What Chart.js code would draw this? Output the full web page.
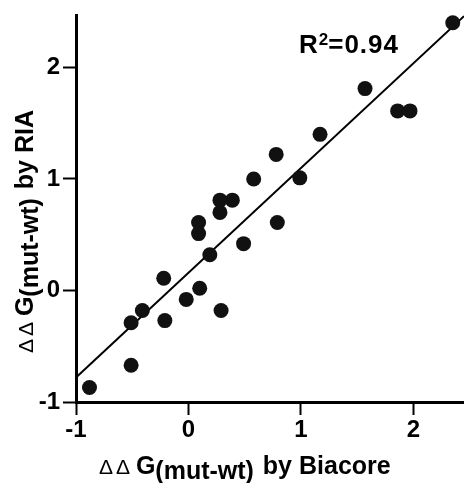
<!DOCTYPE html>
<html>
<head>
<meta charset="utf-8">
<script src="https://cdn.jsdelivr.net/npm/chart.js@4.4.1/dist/chart.umd.min.js"></script>
<style>
  html, body { margin: 0; padding: 0; background: #fff; }
  #wrap { width: 464px; height: 483px; position: relative; }
</style>
</head>
<body>
<div id="wrap"><canvas id="chart" width="464" height="483"></canvas></div>
<script>
// ddG values: Biacore (x) vs RIA (y)
const biacore = [2.35, 1.57, 1.86, 1.97, 1.17, 0.78, 0.58, 0.99, 0.28, 0.39,
  0.28, 0.09, 0.09, 0.79, 0.49, 0.19, -0.22, 0.10, -0.02, 0.29,
  -0.41, -0.51, -0.21, -0.51, -0.88]
const ria = [2.40, 1.81, 1.61, 1.61, 1.40, 1.22, 1.00, 1.01, 0.81, 0.81,
  0.70, 0.61, 0.51, 0.61, 0.42, 0.32, 0.11, 0.02, -0.08, -0.18,
  -0.18, -0.29, -0.27, -0.67, -0.87]

// regression line end points
const fitX = [-1, 2.45]
const fitY = [-0.78, 2.46]

const xTicks = [-1, 0, 1, 2]
const yTicks = [-1, 0, 1, 2]
const rSquared = '0.94'

const FONT = '"Liberation Sans", Arial, Helvetica, sans-serif'

function pairs(xs, ys) {
  return xs.map((x, i) => ({ x: x, y: ys[i] }))
}

// draws a run of text pieces, each with own font and baseline shift
function drawRun(ctx, pieces, x, y) {
  let cx = x
  for (const p of pieces) {
    ctx.font = p.font
    ctx.letterSpacing = p.spacing || '0px'
    cx += p.dx || 0
    ctx.fillText(p.text, cx, y + (p.dy || 0))
    cx += ctx.measureText(p.text).width
  }
  ctx.letterSpacing = '0px'
}

function titlePieces(tail) {
  return [
    { text: '\u0394', font: `21px ${FONT}` },
    { text: '\u0394', font: `21px ${FONT}`, dx: 3 },
    { text: ' ', font: `21px ${FONT}` },
    { text: 'G', font: `bold 25px ${FONT}` },
    { text: '(mut-wt)', font: `bold 25px ${FONT}`, dy: 5 },
    { text: tail, font: `bold 25px ${FONT}`, dx: 2 }
  ]
}

const labelsPlugin = {
  id: 'labels',
  afterDraw(chart) {
    const ctx = chart.ctx
    ctx.save()
    ctx.fillStyle = '#000'
    ctx.textBaseline = 'alphabetic'
    ctx.textAlign = 'left'

    drawRun(ctx, titlePieces(' by Biacore'), 99, 474)

    ctx.save()
    ctx.translate(33, 353)
    ctx.rotate(-Math.PI / 2)
    drawRun(ctx, titlePieces(' by RIA'), 0, 0)
    ctx.restore()

    drawRun(ctx, [
      { text: 'R', font: `bold 26px ${FONT}`, spacing: '1px' },
      { text: '2', font: `bold 17px ${FONT}`, dy: -8 },
      { text: '=' + rSquared, font: `bold 26px ${FONT}`, spacing: '1px' }
    ], 299, 53)
    ctx.restore()
  }
}

const axisCommon = {
  type: 'linear',
  grid: {
    drawOnChartArea: false,
    drawTicks: true,
    tickLength: 13,
    tickWidth: 2,
    color: '#000'
  },
  border: { display: true, color: '#000', width: 3 },
  ticks: {
    color: '#000',
    font: { family: FONT, size: 24, weight: 'bold' }
  }
}

new Chart(document.getElementById('chart'), {
  type: 'scatter',
  data: {
    datasets: [
      {
        label: 'fit',
        type: 'line',
        data: pairs(fitX, fitY),
        borderColor: '#000',
        borderWidth: 2,
        pointRadius: 0,
        fill: false,
        clip: false,
        order: 2
      },
      {
        label: 'mutants',
        data: pairs(biacore, ria),
        backgroundColor: '#111',
        borderWidth: 0,
        pointRadius: 7.5,
        clip: false,
        order: 1
      }
    ]
  },
  options: {
    responsive: false,
    animation: false,
    events: [],
    layout: { autoPadding: false, padding: { top: 15, right: 0, left: 0, bottom: 0 } },
    plugins: {
      legend: { display: false },
      tooltip: { enabled: false }
    },
    scales: {
      x: {
        ...axisCommon,
        min: -1,
        max: 2.45,
        ticks: { ...axisCommon.ticks, padding: 1 },
        afterBuildTicks: s => { s.ticks = xTicks.map(v => ({ value: v })) },
        afterFit: s => {
          s.height = 81
          s.paddingLeft = 0
          s.paddingRight = 0
        }
      },
      y: {
        ...axisCommon,
        min: -1,
        max: 2.47,
        ticks: { ...axisCommon.ticks, padding: 3 },
        afterBuildTicks: s => { s.ticks = yTicks.map(v => ({ value: v })) },
        afterFit: s => {
          s.width = 76
          s.paddingTop = 0
          s.paddingBottom = 0
        }
      }
    }
  },
  plugins: [labelsPlugin]
})
</script>
</body>
</html>
